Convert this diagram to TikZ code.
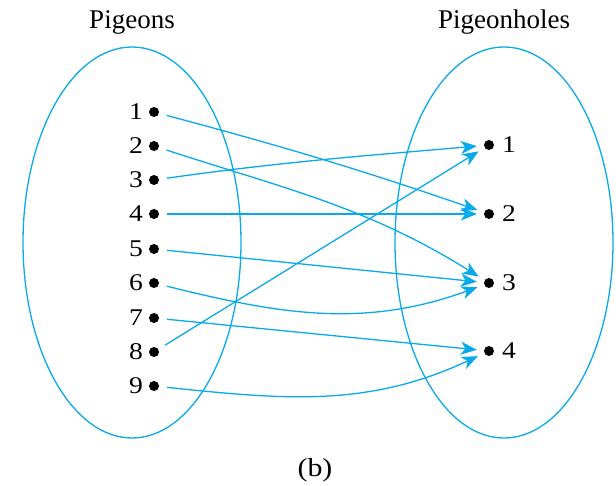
\documentclass[tikz,border=0pt]{standalone}
\usepackage{fontspec}
\usepackage{graphicx}
\setmainfont{Liberation Serif}
\usetikzlibrary{arrows.meta}
\definecolor{lineblue}{RGB}{8,170,235}
\newcommand\widetext[1]{\scalebox{1.15}[1]{#1}}
\tikzset{
  pdot/.style={circle,fill=black,inner sep=0pt,minimum size=10pt},
  numlab/.style={inner sep=0pt,font=\fontsize{24}{27}\selectfont},
  titlelab/.style={inner sep=0pt,font=\fontsize{27}{30}\selectfont},
  setellipse/.style={draw=lineblue,line width=1.3pt},
  maparrow/.style={draw=lineblue,line width=1.3pt,shorten <=8pt,shorten >=7pt,
    -{Stealth[length=16pt,width=13pt,inset=4.5pt]}}
}
\begin{document}
\begin{tikzpicture}[x=1pt,y=-1pt]
\useasboundingbox (0,0) rectangle (616,486);
% sets
\draw[setellipse] (132,242.5) ellipse[x radius=109,y radius=195.5];
\draw[setellipse] (504,242.5) ellipse[x radius=109,y radius=195.5];
\node[titlelab,anchor=base] (tp) at (132,29) {Pigeons};
\node[titlelab,anchor=base] (th) at (504,29) {Pigeonholes};
% pigeons
\foreach \i/\y in {1/112,2/146,3/180,4/214,5/249,6/283,7/318,8/352,9/386}{
  \node[pdot] (l\i) at (154,\y) {};
  \node[numlab,anchor=east] (ln\i) at (143,\y) {\widetext{\i}};
}
% holes
\foreach \i/\y in {1/145,2/214,3/283,4/351}{
  \node[pdot] (r\i) at (489,\y) {};
  \node[numlab,anchor=west] (rn\i) at (502,\y) {\widetext{\i}};
}
% maps
\draw[maparrow] (l1) to[out=-15,in=161] (r2);
\draw[maparrow] (l2) to[out=-18,in=148] (r3);
\draw[maparrow] (l3) to[out=8,in=185] (r1);
\draw[maparrow] (l4) -- (r2);
\draw[maparrow] (l5) -- (r3);
\draw[maparrow] (l6) to[out=-14,in=200] (r3);
\draw[maparrow] (l7) -- (r4);
\draw[maparrow] (l8) -- (r1);
\draw[maparrow] (l9) to[out=-6,in=205] (r4);
\node[inner sep=0pt,font=\fontsize{26}{30}\selectfont] (cap) at (315,470) {\widetext{(b)}};
\end{tikzpicture}
\end{document}
